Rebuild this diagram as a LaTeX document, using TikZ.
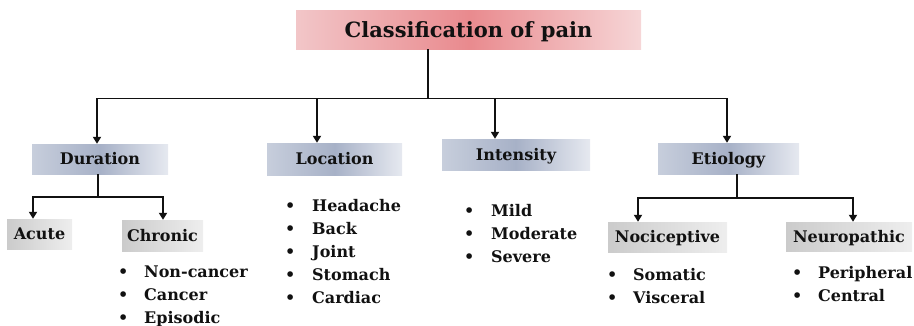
\documentclass[tikz,border=0pt]{standalone}
\usepackage{fontspec}
\setmainfont{DejaVu Serif}
\usetikzlibrary{arrows.meta}
\definecolor{pinkL}{HTML}{F2C6C8}
\definecolor{pinkM}{HTML}{E98A8E}
\definecolor{pinkR}{HTML}{F6D6D7}
\definecolor{blueL}{HTML}{C7CEDC}
\definecolor{blueM}{HTML}{A7B1C7}
\definecolor{blueR}{HTML}{E6E9F0}
\definecolor{grayL}{HTML}{CBCBCB}
\definecolor{grayR}{HTML}{EEEEEE}
\definecolor{ink}{HTML}{111111}
\begin{document}
\begin{tikzpicture}[x=1pt,y=-1pt,
  lbl/.style={font=\fontsize{16}{20}\selectfont\bfseries, text=ink, text height=11.7pt, text depth=0pt, inner sep=0pt},
  titlebox/.style={font=\fontsize{21}{25}\selectfont\bfseries, text=ink, text height=15.3pt, text depth=0pt, inner sep=0pt,
    left color=pinkL, right color=pinkR, middle color=pinkM},
  catbox/.style={lbl, left color=blueL, right color=blueR, middle color=blueM},
  subbox/.style={lbl, left color=grayL, right color=grayR},
  item/.style={font=\fontsize{16}{20}\selectfont\bfseries, text=ink, anchor=base west, inner sep=0pt},
  conn/.style={line width=1.8pt, draw=ink},
  arr/.style={conn, -{Triangle[width=8pt,length=7pt]}},
  arrtwo/.style={conn, {Triangle[width=8pt,length=7pt]}-{Triangle[width=8pt,length=7pt]}}
]
\useasboundingbox (0,0) rectangle (914,325);

% boxes
\node[titlebox, minimum width=345pt, minimum height=39pt] (title) at (468.5,29.5) {Classification of pain};
\node[catbox, minimum width=136pt, minimum height=30pt] (dur) at (100,159) {Duration};
\node[catbox, minimum width=135pt, minimum height=32pt] (loc) at (334.5,159) {Location};
\node[catbox, minimum width=148pt, minimum height=31pt] (int) at (516,154.5) {Intensity};
\node[catbox, minimum width=141pt, minimum height=31pt] (eti) at (728.5,158.5) {Etiology};
\node[subbox, minimum width=65pt, minimum height=30pt] (acute) at (39.5,234) {Acute};
\node[subbox, minimum width=81pt, minimum height=31pt] (chronic) at (162.5,235.5) {Chronic};
\node[subbox, minimum width=119pt, minimum height=30pt] (noci) at (667.5,237) {Nociceptive};
\node[subbox, minimum width=126pt, minimum height=29pt] (neuro) at (849,236.5) {Neuropathic};

% connectors
\coordinate (t0) at (428,98.5);
\coordinate (hL) at (97,98.5);
\coordinate (hR) at (727,98.5);
\coordinate (hLoc) at (317,98.5);
\coordinate (hInt) at (495,98.5);
\draw[conn] (title.south -| t0) -- (t0);
\draw[arrtwo] (hL |- dur.north) -- (hL) -- (hR) -- (hR |- eti.north);
\draw[arr] (hLoc) -- (hLoc |- loc.north);
\draw[arr] (hInt) -- (hInt |- int.north);

\coordinate (dM) at (98,197);
\coordinate (dL) at (33,197);
\coordinate (dR) at (163,197);
\draw[conn] (dur.south -| dM) -- (dM);
\draw[arrtwo] (acute.north -| dL) -- (dL) -- (dR) -- (chronic.north -| dR);

\coordinate (eM) at (737,198);
\coordinate (eL) at (638,198);
\coordinate (eR) at (853,198);
\draw[conn] (eti.south -| eM) -- (eM);
\draw[arrtwo] (noci.north -| eL) -- (eL) -- (eR) -- (neuro.north -| eR);

% lists
\foreach \t [count=\i] in {Non-cancer,Cancer,Episodic}
  \node[item] (chr\i) at (118,277+23*\i-23) {\makebox[26pt][l]{\textbullet}\t};
\foreach \t [count=\i] in {Headache,Back,Joint,Stomach,Cardiac}
  \node[item] (lc\i) at (285,211+23*\i-23) {\makebox[27pt][l]{\textbullet}\t};
\foreach \t [count=\i] in {Mild,Moderate,Severe}
  \node[item] (in\i) at (464,216+23*\i-23) {\makebox[27pt][l]{\textbullet}\t};
\foreach \t [count=\i] in {Somatic,Visceral}
  \node[item] (nc\i) at (607,280+23*\i-23) {\makebox[26pt][l]{\textbullet}\t};
\foreach \t [count=\i] in {Peripheral,Central}
  \node[item] (np\i) at (792,278+23*\i-23) {\makebox[26pt][l]{\textbullet}\t};
\end{tikzpicture}
\end{document}
